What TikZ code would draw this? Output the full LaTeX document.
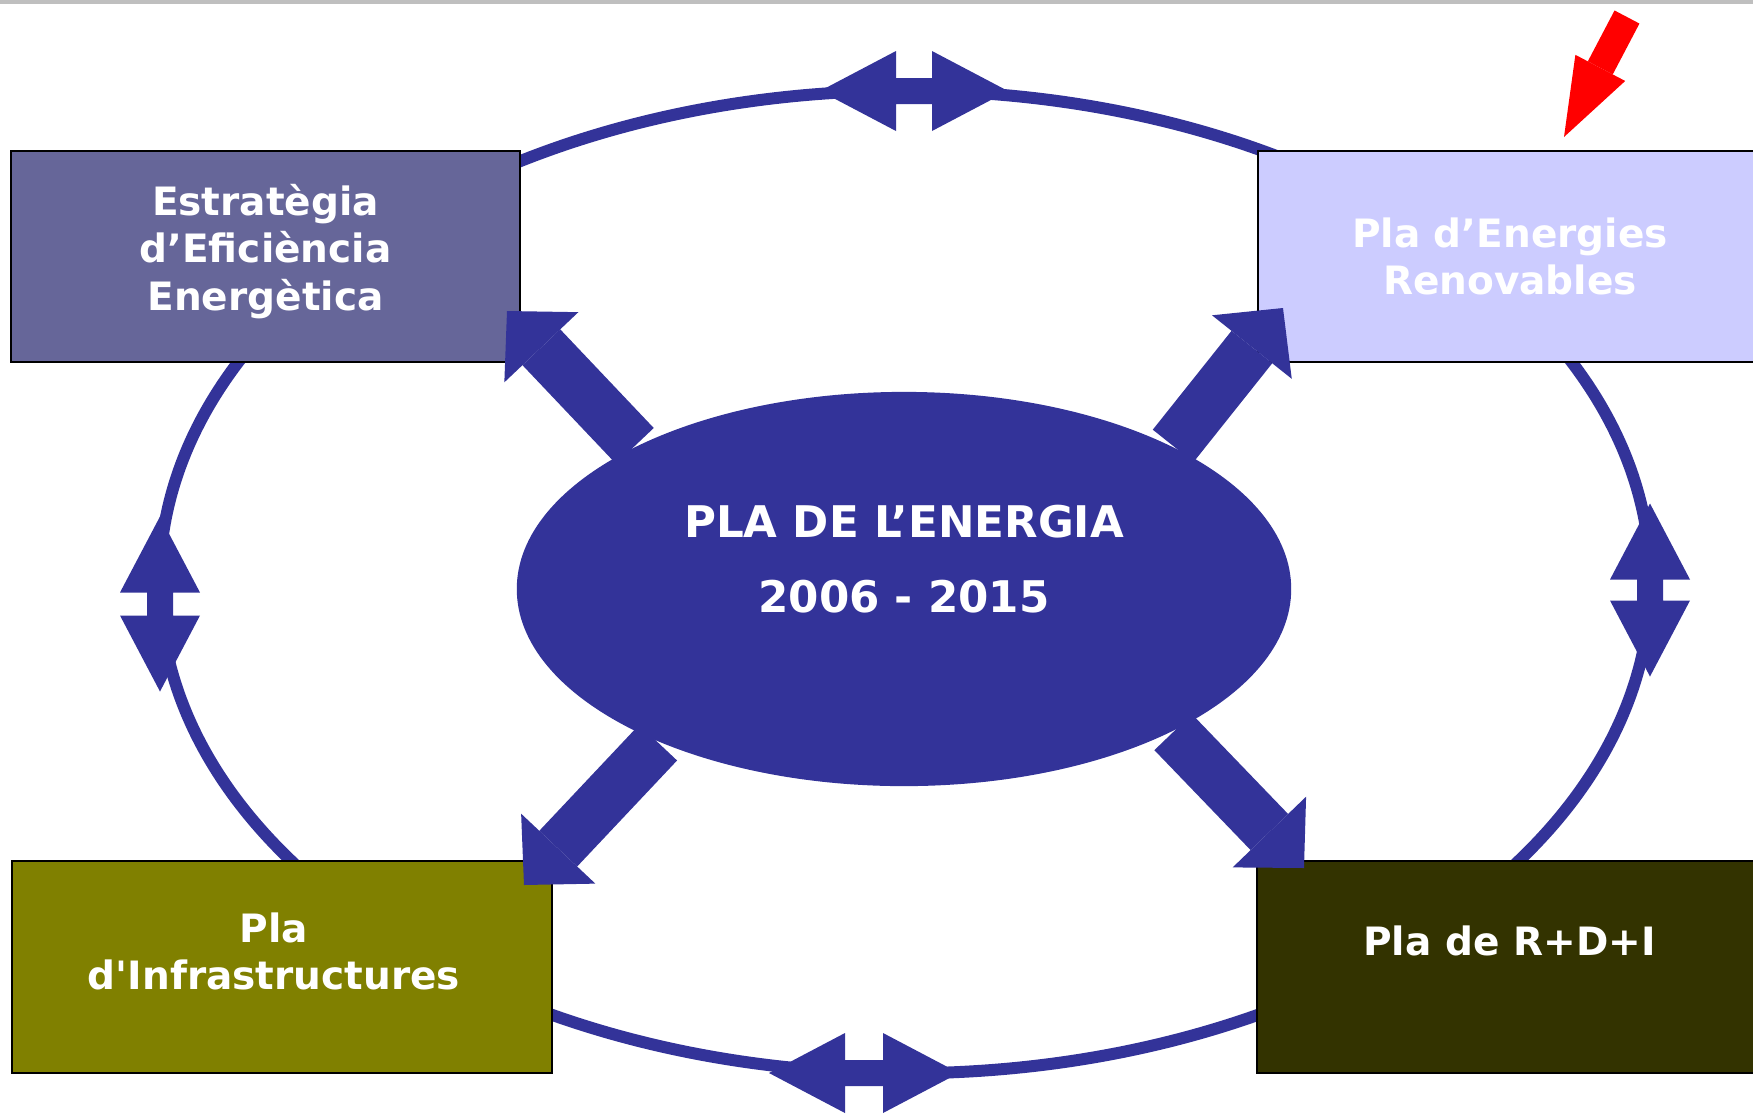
\documentclass[tikz,border=0pt]{standalone}
\usepackage{fontspec}
\setmainfont{DejaVu Sans}
\usetikzlibrary{shapes.geometric, arrows.meta}
\definecolor{plablue}{HTML}{333399}
\definecolor{eficol}{HTML}{666699}
\definecolor{renovcol}{HTML}{CCCCFF}
\definecolor{infracol}{HTML}{808000}
\definecolor{rdicol}{HTML}{333300}
\tikzset{every picture/.style={line width=0.75pt}}
\tikzset{pics/ringarrow/.style={code={
  \fill[plablue] (-#1-76,0) -- (-#1,-40) -- (-#1,-13) -- (#1,-13) -- (#1,-40) -- (#1+76,0)
    -- (#1,40) -- (#1,13) -- (-#1,13) -- (-#1,40) -- cycle;
}}}

\begin{document}
\begin{tikzpicture}[x=0.01cm, y=-0.01cm,
    plabox/.style={draw=black, line width=0.6pt, minimum height=2.11cm, inner sep=0pt},
    boxtext/.style={text=white, font=\bfseries\fontsize{11.1pt}{13.4pt}\selectfont, align=center},
    bigarrow/.style={plablue, line width=14.8pt, -{Triangle[length=14.2pt, width=29pt, line width=0pt]}},
    redarrow/.style={red, line width=8pt, -{Triangle[length=22.2pt, width=16pt, line width=0pt]}}]
    \useasboundingbox (0,0) rectangle (1753,1114);
    \fill[gray!50] (0,0) rectangle (1753,4);

    % ring of plans
    \draw[plablue, line width=3.4pt] (905,582) ellipse [x radius=7.45cm, y radius=4.91cm];

    \node[plabox, fill=eficol, minimum width=5.09cm] (efi) at (265.5,256.5) {};
    \node[plabox, fill=renovcol, minimum width=5.04cm] (renov) at (1510,256.5) {};
    \node[plabox, fill=infracol, minimum width=5.40cm, minimum height=2.12cm] (infra) at (282,967) {};
    \node[plabox, fill=rdicol, minimum width=5.05cm, minimum height=2.12cm] (rdi) at (1509.5,967) {};

    \node[boxtext] (efitext) at ([shift={(0,-5)}]efi.center) {Estratègia\\d’Eficiència\\Energètica};
    \node[boxtext] (renovtext) at (renov.center) {Pla d’Energies\\Renovables};
    \node[boxtext] (infratext) at ([shift={(-8,-16)}]infra.center) {Pla\\d\textquotesingle Infrastructures};
    \node[boxtext] (rditext) at ([shift={(0,-26)}]rdi.center) {Pla de R+D+I};

    \pic at (914,91) {ringarrow=18};
    \pic at (864,1073) {ringarrow=19};
    \pic[rotate=90] at (160,604) {ringarrow=11.5};
    \pic[rotate=90] at (1650,590) {ringarrow=10.5};

    % central plan
    \node[ellipse, fill=plablue, minimum width=7.74cm, minimum height=3.94cm, inner sep=0pt] (pla) at (904,589) {};
    \node[boxtext, font=\bfseries\fontsize{12.4pt}{21.3pt}\selectfont] (platext) at ([shift={(0,-30)}]pla.center)
        {PLA DE L’ENERGIA\\2006 - 2015};

    \coordinate (efitip) at (507,311);
    \coordinate (renovtip) at (1283,308);
    \coordinate (infratip) at (524,885);
    \coordinate (rditip) at (1304,868);
    \draw[bigarrow] (pla.152) -- (efitip);
    \draw[bigarrow] (pla.28) -- (renovtip);
    \draw[bigarrow] (pla.212) -- (infratip);
    \draw[bigarrow] (pla.-28) -- (rditip);

    \coordinate (redtail) at (1627,17);
    \coordinate (redtip) at (1564,137);
    \draw[redarrow] (redtail) -- (redtip);
\end{tikzpicture}
\end{document}
